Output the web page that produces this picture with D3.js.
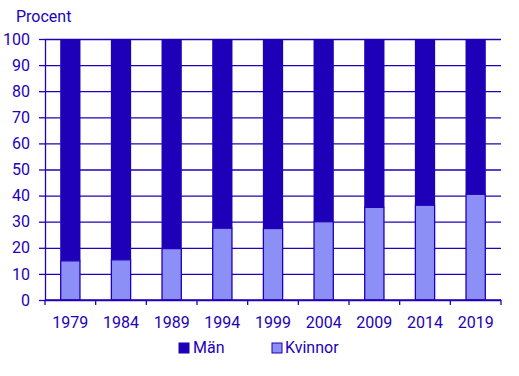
<!DOCTYPE html>
<html>
<head>
<meta charset="utf-8">
<script src="https://cdn.jsdelivr.net/npm/d3@7"></script>
<style>
  body { margin: 0; background: #fff; }
  text { font-family: Roboto, "Liberation Sans", sans-serif; }
</style>
</head>
<body>
<div id="chart"></div>
<script>
// data
const years = ["1979", "1984", "1989", "1994", "1999", "2004", "2009", "2014", "2019"];
const kvinnor = [15, 15.4, 19.7, 27.5, 27.4, 30, 35.5, 36.3, 40.5];
const man = kvinnor.map(v => 100 - v); // the rest of 100 percent
const yTicks = [0, 10, 20, 30, 40, 50, 60, 70, 80, 90, 100];

const width = 519, height = 376,
    margin = ({ top: 39, right: 18, bottom: 76, left: 45 });

const ink = "#2400b8", manCol = "#1f00b9", kvCol = "#8c8ff5";

const svg = d3.select("#chart").append("svg")
    .attr("width", width).attr("height", height);

const x = d3.scaleBand().domain(years)
    .range([margin.left, width - margin.right])
    .paddingInner(0.6).paddingOuter(0.3);

const y = d3.scaleLinear().domain([0, 100])
    .range([height - margin.bottom, margin.top]);

// y axis with grid lines
const gy = svg.append("g")
    .attr("transform", `translate(${margin.left},0)`)
    .call(d3.axisLeft(y).tickValues(yTicks).tickSizeOuter(0).tickSizeInner(6).tickPadding(9));
gy.selectAll(".tick line").clone()
    .attr("x1", 0).attr("x2", width - margin.right - margin.left);
gy.selectAll("line, path").attr("stroke", ink).attr("stroke-width", 1.3);
gy.selectAll("text").attr("fill", ink).attr("font-size", 16);

// stacked bars
const rows = years.map((yr, i) => ({ yr, k: kvinnor[i], m: man[i] }));
svg.append("g").selectAll("rect").data(rows).join("rect")
    .attr("x", d => x(d.yr)).attr("width", x.bandwidth())
    .attr("y", d => y(d.k + d.m)).attr("height", d => y(d.k) - y(d.k + d.m))
    .attr("fill", manCol);
svg.append("g").selectAll("rect").data(rows).join("rect")
    .attr("x", d => x(d.yr) + 0.5).attr("width", x.bandwidth() - 1)
    .attr("y", d => y(d.k)).attr("height", d => y(0) - y(d.k))
    .attr("fill", kvCol).attr("stroke", manCol).attr("stroke-width", 1.3);

// x axis, ticks between the bands
const gx = svg.append("g")
    .attr("transform", `translate(0,${height - margin.bottom})`);
gx.append("line")
    .attr("x1", margin.left).attr("x2", width - margin.right)
    .attr("stroke", ink).attr("stroke-width", 1.3);
const step = (width - margin.right - margin.left) / years.length;
gx.selectAll(".tk").data(d3.range(years.length + 1)).join("line")
    .attr("x1", i => margin.left + i * step).attr("x2", i => margin.left + i * step)
    .attr("y1", 0).attr("y2", 5)
    .attr("stroke", ink).attr("stroke-width", 1.3);
gx.selectAll(".lbl").data(years).join("text")
    .attr("x", d => x(d) + x.bandwidth() / 2).attr("y", 28)
    .attr("text-anchor", "middle").attr("fill", ink).attr("font-size", 16)
    .text(d => d);

// axis title
svg.append("text").attr("x", 16).attr("y", 22)
    .attr("fill", ink).attr("font-size", 16).text("Procent");

// legend
const legend = [{ name: "Män", col: manCol, x: 179 }, { name: "Kvinnor", col: kvCol, x: 272 }];
const lg = svg.append("g").selectAll("g").data(legend).join("g")
    .attr("transform", d => `translate(${d.x},343)`);
lg.append("rect").attr("width", 10).attr("height", 10)
    .attr("fill", d => d.col).attr("stroke", manCol).attr("stroke-width", 1);
lg.append("text").attr("x", d => d.name === "Män" ? 14 : 13).attr("y", 10)
    .attr("fill", ink).attr("font-size", 16).text(d => d.name);
</script>
</body>
</html>
